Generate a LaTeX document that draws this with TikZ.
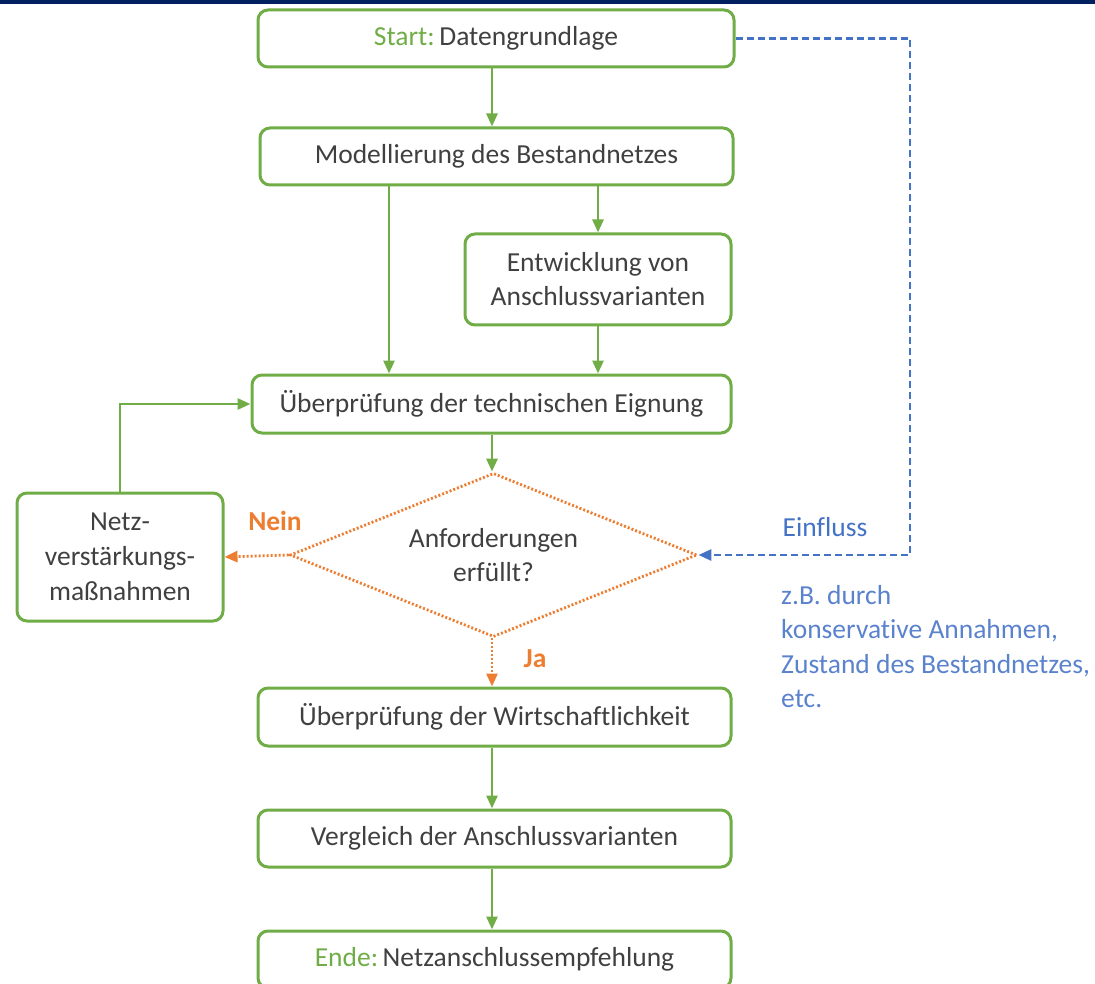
\documentclass[tikz,border=0pt]{standalone}
\usepackage{fontspec}
\setmainfont[Ligatures=NoCommon]{Carlito}
\usetikzlibrary{arrows.meta,shapes.geometric}
\definecolor{gr}{RGB}{112,173,71}
\definecolor{og}{RGB}{237,125,49}
\definecolor{bl}{RGB}{68,114,196}
\definecolor{lbl}{RGB}{90,130,205}
\definecolor{tx}{RGB}{64,64,64}
\definecolor{navy}{RGB}{0,32,96}
\tikzset{
  box/.style={draw=gr, line width=3pt, rounded corners=10pt, fill=white, text=tx,
    align=center, inner sep=0pt, font=\fontsize{27.5}{34}\selectfont},
  garrow/.style={draw=gr, line width=2.8pt, -{Triangle[length=13pt,width=11pt]}},
  oarrow/.style={draw=og, line width=2.8pt, dash pattern=on 2pt off 2pt, -{Triangle[length=13pt,width=11pt]}},
  barrow/.style={draw=bl, line width=2.8pt, dash pattern=on 7pt off 4pt, -{Triangle[length=13pt,width=11pt]}},
  dec/.style={diamond, draw=og, line width=2.8pt, dash pattern=on 2pt off 2pt, text=tx, align=center,
    inner sep=0pt, minimum width=407pt, minimum height=164pt, aspect=2.48,
    font=\fontsize{27.5}{34}\selectfont},
  lab/.style={font=\fontsize{27.5}{34.5}\selectfont}
}
\begin{document}
\begin{tikzpicture}[x=1pt,y=-1pt]
\useasboundingbox (0,0) rectangle (1095,984);
\clip (0,0) rectangle (1095,984);
\fill[navy] (0,0) rectangle (1095,4.5);

\node[box, minimum width=476pt, minimum height=57pt] (start) at (496,38.5)
  {\textcolor{gr}{Start:}\,Datengrundlage};
\node[box, minimum width=473pt, minimum height=57pt] (modell) at (496.5,156.5)
  {Modellierung des Bestandnetzes};
\node[box, minimum width=266pt, minimum height=91pt] (entw) at (598,279.5)
  {Entwicklung von\\Anschlussvarianten};
\node[box, minimum width=479pt, minimum height=58pt] (tech) at (491.5,404)
  {Überprüfung der technischen Eignung};
\node[dec] (dia) at (493.5,555) {Anforderungen\\erfüllt?};
\node[box, minimum width=206pt, minimum height=128pt, font=\fontsize{27.5}{35}\selectfont] (netz) at (120,557)
  {Netz-\\verstärkungs-\\maßnahmen};
\node[box, minimum width=473pt, minimum height=58pt] (wirt) at (494.5,717)
  {Überprüfung der Wirtschaftlichkeit};
\node[box, minimum width=473pt, minimum height=57pt] (vergl) at (494.5,838.5)
  {Vergleich der Anschlussvarianten};
\node[box, minimum width=473pt, minimum height=57pt] (ende) at (494.5,959.5)
  {\textcolor{gr}{Ende:}\,Netzanschlussempfehlung};

\coordinate (cx) at (492,0);
\coordinate (cl) at (389,0);
\coordinate (bx) at (910,0);

\draw[garrow] (start.south -| cx) -- (modell.north -| cx);
\draw[garrow] (modell.south -| entw.north) -- (entw.north);
\draw[garrow] (modell.south -| cl) -- (tech.north -| cl);
\draw[garrow] (entw.south) -- (entw.south |- tech.north);
\draw[garrow] (tech.south -| cx) -- (dia.north -| cx);
\draw[oarrow] (dia.west) -- (netz.east);
\draw[garrow] (netz.north) |- (tech.west);
\draw[oarrow] (dia.south -| cx) -- (wirt.north -| cx);
\draw[garrow] (wirt.south -| cx) -- (vergl.north -| cx);
\draw[garrow] (vergl.south -| cx) -- (ende.north -| cx);
\draw[barrow] (start.east) -- (start.east -| bx) -- (bx |- dia.east) -- (dia.east);

\node[lab, text=og, font=\fontsize{27.5}{34}\selectfont\bfseries] (nein) at (275,521) {Nein};
\node[lab, text=og, font=\fontsize{27.5}{34}\selectfont\bfseries] (ja) at (535,659) {Ja};
\node[lab, text=bl] (einfl) at (825,527) {Einfluss};
\node[lab, text=lbl, anchor=north west, align=left, inner sep=0pt] (zb) at (781,585)
  {z.B. durch\\konservative Annahmen,\\Zustand des Bestandnetzes,\\etc.};
\end{tikzpicture}
\end{document}
